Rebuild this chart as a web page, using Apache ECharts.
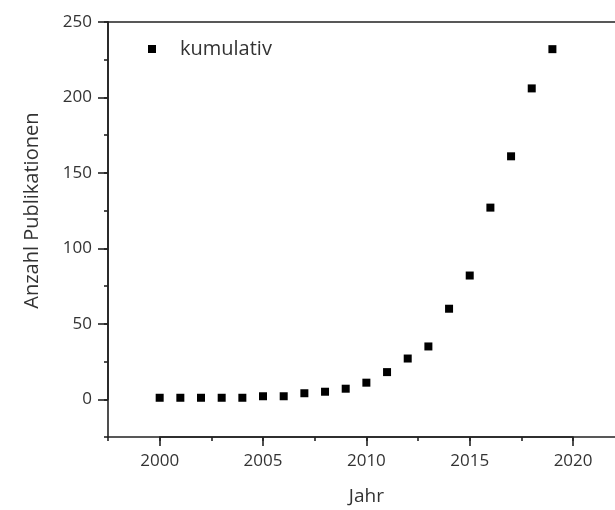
<!DOCTYPE html>
<html>
<head>
<meta charset="utf-8">
<script src="https://cdn.jsdelivr.net/npm/echarts@6/dist/echarts.min.js"></script>
<style>
  html, body { margin: 0; padding: 0; background: #fff; }
  #chart { width: 615px; height: 510px; }
</style>
</head>
<body>
<div id="chart"></div>
<script>
// Cumulative number of publications per year
const years = [2000, 2001, 2002, 2003, 2004, 2005, 2006, 2007, 2008, 2009,
               2010, 2011, 2012, 2013, 2014, 2015, 2016, 2017, 2018, 2019];
const cumulative = [1, 1, 1, 1, 1, 2, 2, 4, 5, 7,
                    11, 18, 27, 35, 60, 82, 127, 161, 206, 232];
const seriesName = 'kumulativ';
const xTitle = 'Jahr';
const yTitle = 'Anzahl Publikationen';

const FONT = '"Open Sans", "Noto Sans", sans-serif';
const TEXT = '#333333';
const AXIS = '#222222';

// Plot frame geometry
const LEFT = 108, TOP = 22, H = 415;
const PX_PER_YEAR = 20.67;
const X_MIN = 1997.5, X_MAX = 2022.5;
const Y_MIN = -25, Y_MAX = 250;
const PX_PER_UNIT = H / (Y_MAX - Y_MIN);
const W = (X_MAX - X_MIN) * PX_PER_YEAR;

// Labelled (long) ticks live on their own grids that share the same scale
const XMAJ_LEFT = LEFT + (2000 - X_MIN) * PX_PER_YEAR;
const XMAJ_WIDTH = (2020 - 2000) * PX_PER_YEAR;
const YMAJ_HEIGHT = (Y_MAX - 0) * PX_PER_UNIT;

const plain = v => String(Math.round(v));
const lineStyle = () => ({ color: AXIS, width: 1.6 });

const chart = echarts.init(document.getElementById('chart'));
chart.setOption({
  animation: false,
  backgroundColor: '#ffffff',
  textStyle: { fontFamily: FONT },
  legend: {
    left: 143, top: 34,
    itemWidth: 8, itemHeight: 8, itemGap: 10,
    icon: 'rect',
    textStyle: { fontFamily: FONT, fontSize: 20, color: TEXT, padding: [0, 0, 0, 19] },
    data: [seriesName]
  },
  grid: [
    { left: LEFT, top: TOP, width: W, height: H, outerBoundsMode: 'none' },
    { left: XMAJ_LEFT, top: TOP, width: XMAJ_WIDTH, height: H, outerBoundsMode: 'none' },
    { left: LEFT, top: TOP, width: W, height: YMAJ_HEIGHT, outerBoundsMode: 'none' }
  ],
  xAxis: [
    {
      gridIndex: 0, type: 'value', min: X_MIN, max: X_MAX, interval: 2.5,
      axisLine: { show: true, onZero: false, lineStyle: lineStyle() },
      axisTick: { show: true, length: 4, lineStyle: lineStyle() },
      axisLabel: { show: false },
      splitLine: { show: false }
    },
    {
      gridIndex: 0, type: 'value', min: X_MIN, max: X_MAX, position: 'top',
      axisLine: { show: true, onZero: false, lineStyle: lineStyle() },
      axisTick: { show: false }, axisLabel: { show: false }, splitLine: { show: false }
    },
    {
      gridIndex: 1, type: 'value', min: 2000, max: 2020, interval: 5,
      name: xTitle, nameLocation: 'middle', nameGap: 50,
      nameTextStyle: { fontFamily: FONT, fontSize: 19, color: TEXT },
      axisLine: { show: true, onZero: false, lineStyle: lineStyle() },
      axisTick: { show: true, length: 9, lineStyle: lineStyle() },
      axisLabel: { show: true, margin: 16, fontFamily: FONT, fontSize: 17, color: TEXT, formatter: plain },
      splitLine: { show: false }
    },
    { gridIndex: 2, type: 'value', min: 0, max: 1, show: false }
  ],
  yAxis: [
    {
      gridIndex: 0, type: 'value', min: Y_MIN, max: Y_MAX, interval: 25,
      axisLine: { show: true, onZero: false, lineStyle: lineStyle() },
      axisTick: { show: true, length: 4, lineStyle: lineStyle() },
      axisLabel: { show: false },
      splitLine: { show: false }
    },
    { gridIndex: 1, type: 'value', min: 0, max: 1, show: false },
    {
      gridIndex: 2, type: 'value', min: 0, max: 250, interval: 50,
      name: yTitle, nameLocation: 'middle', nameGap: 66,
      nameTextStyle: { fontFamily: FONT, fontSize: 20, color: TEXT },
      axisLine: { show: true, onZero: false, lineStyle: lineStyle() },
      axisTick: { show: true, length: 10, lineStyle: lineStyle() },
      axisLabel: { show: true, margin: 16, fontFamily: FONT, fontSize: 17, color: TEXT, formatter: plain },
      splitLine: { show: false }
    }
  ],
  series: [{
    name: seriesName,
    type: 'scatter',
    xAxisIndex: 0, yAxisIndex: 0,
    symbol: 'rect', symbolSize: 8,
    itemStyle: { color: '#000000', opacity: 1 },
    emphasis: { disabled: true },
    data: years.map((y, i) => [y, cumulative[i]])
  }]
});
</script>
</body>
</html>
